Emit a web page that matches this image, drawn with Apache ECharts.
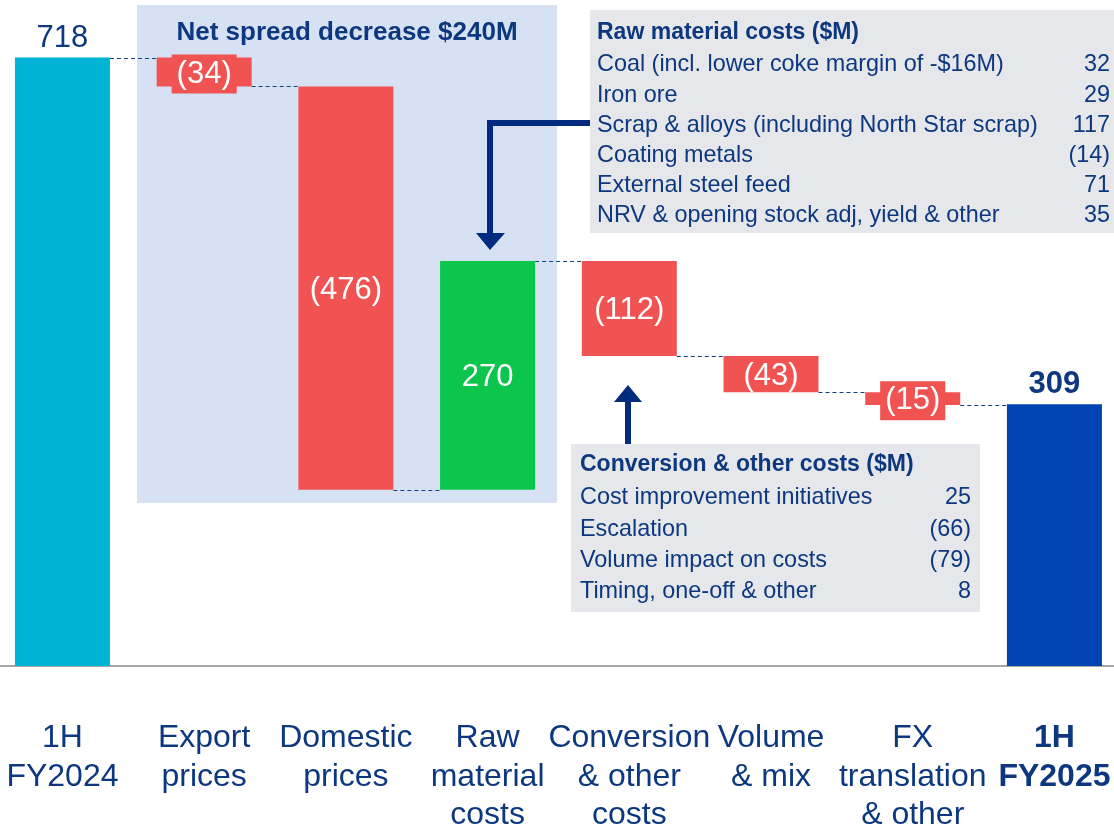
<!DOCTYPE html>
<html>
<head>
<meta charset="utf-8">
<script src="https://cdn.jsdelivr.net/npm/echarts@6/dist/echarts.min.js"></script>
<style>
    html, body { margin: 0; padding: 0; background: #fff; }
    #chart { width: 1114px; height: 829px; }
</style>
</head>
<body>
<div id="chart"></div>
<script>
//== data
var categories = ['1H\nFY2024', 'Export\nprices', 'Domestic\nprices', 'Raw\nmaterial\ncosts',
    'Conversion\n& other\ncosts', 'Volume\n& mix', 'FX\ntranslation\n& other', '1H\nFY2025'];
var changes = [718, -34, -476, 270, -112, -43, -15, 309];

var rawTitle = 'Raw material costs ($M)';
var rawItems = ['Coal (incl. lower coke margin of -$16M)', 'Iron ore',
    'Scrap & alloys (including North Star scrap)', 'Coating metals',
    'External steel feed', 'NRV & opening stock adj, yield & other'];
var rawValues = ['32', '29', '117', '(14)', '71', '35'];

var convTitle = 'Conversion & other costs ($M)';
var convItems = ['Cost improvement initiatives', 'Escalation', 'Volume impact on costs', 'Timing, one-off & other'];
var convValues = ['25', '(66)', '(79)', '8'];

var spreadTitle = 'Net spread decrease $240M';

var NAVY = '#0D3880';
var ARROW = '#002B7F';
var RED = '#F05352';
var FONT = '"Liberation Sans", Arial, sans-serif';
var BAR_W = 95;

//== waterfall
var bases = [], heights = [], levels = [];
var running = 0;
changes.forEach(function (v, i) {
    if (i === 0 || i === changes.length - 1) {
        bases.push(0);
        heights.push(v);
        running = v;
    } else if (v < 0) {
        bases.push(running + v);
        heights.push(-v);
        running += v;
    } else {
        bases.push(running);
        heights.push(v);
        running += v;
    }
    levels.push(running);
});

var barData = heights.map(function (h, i) {
    var v = changes[i];
    var last = changes.length - 1;
    var color = i === 0 ? '#00B4D6' : i === last ? '#0044B2' : v < 0 ? RED : '#0BC54C';
    var label;
    if (i === 0 || i === last) {
        label = {
            show: true, position: 'top', distance: 4, color: NAVY, fontSize: 31,
            fontWeight: i === last ? 'bold' : 'normal', fontFamily: FONT,
            formatter: String(v)
        };
    } else {
        label = {
            show: true, position: 'inside', offset: [0, 2], color: '#fff', fontSize: 31, fontFamily: FONT,
            formatter: v < 0 ? '(' + (-v) + ')' : String(v)
        };
        if (h < 35) {
            label.backgroundColor = RED;
            label.padding = [3, 5];
            label.lineHeight = 33;
        }
    }
    return { value: h, itemStyle: { color: color }, label: label };
});

var connectorData = levels.slice(0, levels.length - 1).map(function (l, i) {
    return [i, l];
});

function tableGraphics(x, y, w, h, title, items, values, tx, ty, firstRow, right, step) {
    var els = [{
        type: 'rect', shape: { x: x, y: y, width: w, height: h },
        style: { fill: '#E6E7EB' }
    }, {
        type: 'text', x: tx, y: ty,
        style: { text: title, fill: NAVY, font: 'bold 23px ' + FONT, textVerticalAlign: 'middle' }
    }];
    items.forEach(function (t, i) {
        els.push({
            type: 'text', x: tx, y: firstRow + i * step,
            style: { text: t, fill: NAVY, font: '23.4px ' + FONT, textVerticalAlign: 'middle' }
        });
        els.push({
            type: 'text', x: right, y: firstRow + i * step,
            style: { text: values[i], fill: NAVY, font: '23.4px ' + FONT, textAlign: 'right', textVerticalAlign: 'middle' }
        });
    });
    return els;
}

var graphics = [{
    type: 'rect', z: -10, shape: { x: 137, y: 5, width: 420, height: 498 },
    style: { fill: '#D6E2F4' }
}, {
    type: 'text', x: 347, y: 33,
    style: { text: spreadTitle, fill: NAVY, font: 'bold 26px ' + FONT, textAlign: 'center', textVerticalAlign: 'middle' }
}];
graphics = graphics.concat(tableGraphics(590, 10, 524, 223, rawTitle, rawItems, rawValues, 597, 33, 65, 1110, 30.2));
graphics = graphics.concat(tableGraphics(571, 444, 409, 168, convTitle, convItems, convValues, 580, 465, 498, 971, 31.2));
// arrows
graphics.push({
    type: 'polyline', shape: { points: [[590, 123], [490, 123], [490, 236]] },
    style: { stroke: ARROW, lineWidth: 6, fill: null }
}, {
    type: 'polygon', shape: { points: [[476, 233], [505, 233], [490, 250]] },
    style: { fill: ARROW }
}, {
    type: 'line', shape: { x1: 628, y1: 444, x2: 628, y2: 398 },
    style: { stroke: ARROW, lineWidth: 6 }
}, {
    type: 'polygon', shape: { points: [[614, 402], [642, 402], [628, 385]] },
    style: { fill: ARROW }
});

var myChart = echarts.init(document.getElementById('chart'));
var option = {
    animation: false,
    grid: { left: -8.4, top: 0, width: 1133.7, height: 666, containLabel: false, outerBoundsMode: 'none' },
    xAxis: {
        type: 'category',
        data: categories,
        axisLine: { lineStyle: { color: '#A6A6A6', width: 2 } },
        axisTick: { show: false },
        axisLabel: {
            interval: 0, hideOverlap: false, margin: 53,
            color: NAVY, fontSize: 32, lineHeight: 38.5, fontFamily: FONT,
            formatter: function (v, i) {
                if (i === categories.length - 1) {
                    return v.split('\n').map(function (s) { return '{b|' + s + '}'; }).join('\n');
                }
                return v;
            },
            rich: { b: { fontWeight: 'bold', fontSize: 32, lineHeight: 38.5, color: NAVY, fontFamily: FONT } }
        }
    },
    yAxis: { type: 'value', min: 0, max: 786, show: false, splitLine: { show: false } },
    graphic: graphics,
    series: [{
        type: 'bar', stack: 'wf', barWidth: BAR_W, z: 2,
        itemStyle: { color: 'transparent' }, emphasis: { disabled: true },
        data: bases
    }, {
        type: 'bar', stack: 'wf', barWidth: BAR_W, z: 2,
        data: barData
    }, {
        type: 'custom', z: 1,
        encode: { x: 0, y: 1 },
        data: connectorData,
        renderItem: function (params, api) {
            var p = api.coord([api.value(0), api.value(1)]);
            var q = api.coord([api.value(0) + 1, api.value(1)]);
            var y = Math.round(p[1]) + 0.5;
            return {
                type: 'line',
                shape: { x1: p[0] + BAR_W / 2, y1: y, x2: q[0] - BAR_W / 2, y2: y },
                style: { stroke: '#143F86', lineWidth: 1, lineDash: [4, 3] }
            };
        }
    }]
};
myChart.setOption(option, true);
</script>
</body>
</html>
